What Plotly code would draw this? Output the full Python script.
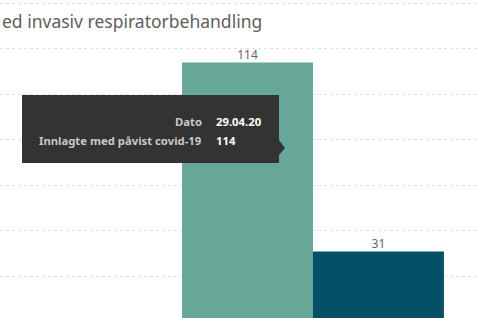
import plotly.graph_objects as go

categories = ["29.04.20"]
series_names = ["Innlagte med påvist covid-19", "Innlagte med invasiv respiratorbehandling"]
covid_values = [114]
resp_values = [31]
colors = ["#67A797", "#045066"]
title_text = "ed invasiv respiratorbehandling"
tooltip_labels = ["Dato", "Innlagte med påvist covid-19"]
tooltip_values = ["29.04.20", "114"]

W, H = 477, 318
fig = go.Figure()
for i, (name, vals, col) in enumerate(zip(series_names, [covid_values, resp_values], colors)):
    fig.add_trace(go.Bar(
        x=categories, y=vals, name=name, marker_color=col,
        marker_line_width=0, offsetgroup=str(i),
    ))

# data labels above bars
for i, vals in enumerate([covid_values, resp_values]):
    fig.add_trace(go.Scatter(
        x=categories, y=vals, mode="text", text=[str(v) for v in vals],
        textposition="top center", xaxis="x2",
        textfont=dict(family="Noto Sans", size=12, color="#666666"),
        showlegend=False, hoverinfo="skip", cliponaxis=False,
    ))

group_w = 0.8  # 1 - bargap
fig.data[2].update(x=[-group_w / 4])
fig.data[3].update(x=[group_w / 4])

fig.update_layout(
    width=W, height=H,
    margin=dict(l=0, r=0, t=0, b=0),
    paper_bgcolor="white", plot_bgcolor="white",
    barmode="group", bargap=0.2, bargroupgap=0,
    showlegend=False,
    xaxis=dict(type="category", range=[-0.956, 0.501], showticklabels=False,
               showgrid=False, zeroline=False, showline=False),
    xaxis2=dict(type="linear", range=[-0.956, 0.501], overlaying="x", visible=False),
    yaxis=dict(range=[1.76, 141.4], dtick=20, showticklabels=False,
               showgrid=True, gridcolor="#e0e0e0", griddash="dot", gridwidth=1,
               zeroline=False, showline=False),
)

# title (cropped)
fig.add_annotation(text=title_text, xref="paper", yref="paper",
                   x=0, y=1 - 21 / H, xanchor="left", yanchor="middle",
                   showarrow=False,
                   font=dict(family="Noto Sans", size=17.5, color="#605E5C"))

def px(x):
    return x / W

def py(y):
    return 1 - y / H

# tooltip box
fig.add_shape(type="rect", xref="paper", yref="paper",
              x0=px(22), x1=px(279), y0=py(163), y1=py(95),
              fillcolor="#333333", line_width=0, layer="above")
fig.add_shape(type="path", xref="paper", yref="paper",
              path=f"M {px(279)} {py(140)} L {px(285)} {py(148)} L {px(279)} {py(155)} Z",
              fillcolor="#333333", line_width=0, layer="above")

for i, (lab, val) in enumerate(zip(tooltip_labels, tooltip_values)):
    yy = py(121 + 19 * i)
    fig.add_annotation(text=f"<b>{lab}</b>", xref="paper", yref="paper",
                       x=px(204), y=yy, xanchor="right", yanchor="middle",
                       showarrow=False,
                       font=dict(family="Noto Sans", size=11.3, color="#C8C8C8"))
    fig.add_annotation(text=f"<b>{val}</b>", xref="paper", yref="paper",
                       x=px(214), y=yy, xanchor="left", yanchor="middle",
                       showarrow=False,
                       font=dict(family="Noto Sans", size=11.3, color="#FFFFFF"))

fig.write_html("out.html")
